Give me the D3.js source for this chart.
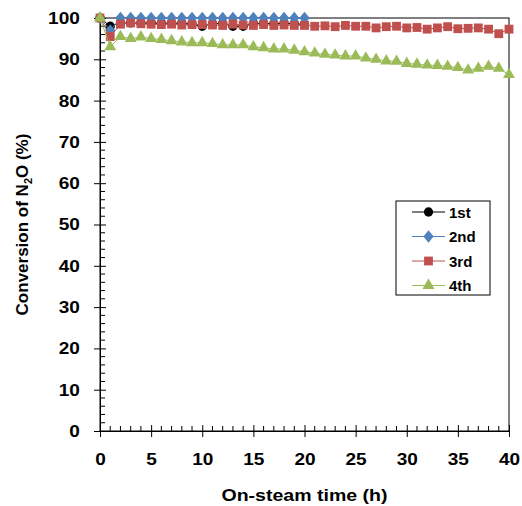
<!DOCTYPE html>
<meta charset="utf-8">
<style>
body { margin: 0; background: #fff; }
svg { font-family: Arial, 'Liberation Sans', sans-serif; }
.tick text, .lbl { font-weight: bold; fill: #000; }
</style>
<body>
<svg width="522" height="506"></svg>
<script src="https://cdn.jsdelivr.net/npm/d3@7"></script>
<script>

// on-steam time (h)
var hours = d3.range(0, 41);

var run1 = [100, 98, 98.8, 98.8, 98.7, 98.8, 98.7, 98.8, 98.7, 98.5, 98,
            98.6, 98.7, 98, 98, 98.7, 98.7, 98.6, 98.7, 98.6, 98.5];
var run2 = [100, 97, 100, 100, 100, 100, 100, 100, 100, 100, 100,
            100, 100, 100, 100, 100, 100, 100, 100, 100, 100];
var run3 = [100, 95.5, 98.5, 98.8, 98.6, 98.5, 98.4, 98.5, 98.3, 98.4, 98.4,
            98.3, 98.2, 98.5, 98.3, 98.2, 98.4, 98.2, 98.3, 98.2, 98.2,
            98, 98.1, 97.9, 98.2, 98, 98, 97.6, 97.9, 98, 97.6,
            97.7, 97.3, 97.6, 97.9, 97.4, 97.5, 97.6, 97.3, 96.2, 97.3];
var run4 = [100, 93, 95.5, 95, 95.4, 95, 94.8, 94.5, 94.2, 94, 94,
            93.8, 93.5, 93.5, 93.5, 93, 92.8, 92.5, 92.5, 92.2, 91.8,
            91.5, 91.2, 91, 90.8, 90.8, 90.3, 90, 89.6, 89.5, 89,
            88.8, 88.6, 88.5, 88.3, 88, 87.4, 87.8, 88.3, 87.8, 86.3];

var seriesNames = ["1st", "2nd", "3rd", "4th"];
var seriesValues = [run1, run2, run3, run4];
var seriesColors = ["#000000", "#4f81bd", "#c0504d", "#9bbb59"];
var seriesSymbols = [d3.symbolCircle, d3.symbolDiamond, d3.symbolSquare, d3.symbolTriangle];
var symbolSizes = [68, 50, 78, 62];
var symbolStretch = ["", " scale(1.35,0.95)", "", ""];

var xTicks = [0, 5, 10, 15, 20, 25, 30, 35, 40];
var yTicks = [0, 10, 20, 30, 40, 50, 60, 70, 80, 90, 100];

var svg = d3.select("svg"),
    margin = {top: 18, right: 13, bottom: 75, left: 100},
    width = 522 - margin.left - margin.right,
    height = 506 - margin.top - margin.bottom;

var g = svg.append("g")
    .attr("transform", "translate(" + margin.left + "," + margin.top + ")");

var x = d3.scaleLinear().domain([0, 40]).range([0, width]);
var y = d3.scaleLinear().domain([0, 100]).range([height, 0]);

// frame
g.append("rect")
    .attr("width", width).attr("height", height)
    .attr("fill", "none").attr("stroke", "#000").attr("stroke-width", 1);

// minor ticks
g.append("g").selectAll("line")
    .data(d3.range(0, 41).filter(function(d) { return d % 5; }))
    .enter().append("line")
    .attr("x1", function(d) { return x(d); }).attr("x2", function(d) { return x(d); })
    .attr("y1", height).attr("y2", height - 5)
    .attr("stroke", "#000");
g.append("g").selectAll("line")
    .data(d3.range(0, 101, 2).filter(function(d) { return d % 10; }))
    .enter().append("line")
    .attr("y1", function(d) { return y(d); }).attr("y2", function(d) { return y(d); })
    .attr("x1", 0).attr("x2", 5)
    .attr("stroke", "#000");

// axes
var xAxis = g.append("g")
    .attr("transform", "translate(0," + height + ")")
    .call(d3.axisBottom(x).tickValues(xTicks).tickSize(6).tickPadding(16).tickSizeOuter(0));
xAxis.selectAll(".tick line").attr("y1", -6);
xAxis.select(".domain").attr("stroke", "#000");
xAxis.selectAll("text").style("font-size", "17px").attr("fill", "#000")
    .attr("transform", "scale(1.12,1)");

var yAxis = g.append("g")
    .call(d3.axisLeft(y).tickValues(yTicks).tickSize(6).tickPadding(12).tickSizeOuter(0));
yAxis.selectAll(".tick line").attr("x1", 6);
yAxis.selectAll("text").style("font-size", "17px").attr("fill", "#000")
    .attr("transform", "scale(1.12,1)");

// series
var line = d3.line()
    .x(function(d, i) { return x(hours[i]); })
    .y(function(d) { return y(d); });

seriesValues.forEach(function(vals, k) {
    var s = g.append("g");
    s.append("path")
        .datum(vals)
        .attr("d", line)
        .attr("fill", "none")
        .attr("stroke", seriesColors[k])
        .attr("stroke-width", 1);
    s.selectAll("path.pt")
        .data(vals)
        .enter().append("path")
        .attr("class", "pt")
        .attr("transform", function(d, i) {
            return "translate(" + x(hours[i]) + "," + y(d) + ")" + symbolStretch[k];
        })
        .attr("d", d3.symbol().type(seriesSymbols[k]).size(symbolSizes[k]))
        .attr("fill", seriesColors[k]);
});

// legend
var legend = svg.append("g").attr("transform", "translate(396,201)");
legend.append("rect")
    .attr("width", 94).attr("height", 94)
    .attr("fill", "#fff").attr("stroke", "#000");
seriesNames.forEach(function(name, k) {
    var row = legend.append("g").attr("transform", "translate(0," + (11 + k * 24.5) + ")");
    row.append("line")
        .attr("x1", 16).attr("x2", 49)
        .attr("stroke", seriesColors[k]);
    row.append("path")
        .attr("transform", "translate(32.5,0)" + symbolStretch[k])
        .attr("d", d3.symbol().type(seriesSymbols[k]).size(symbolSizes[k]))
        .attr("fill", seriesColors[k]);
    row.append("text")
        .attr("class", "lbl")
        .attr("x", 53).attr("y", 5.5)
        .style("font-size", "15px")
        .text(name);
});

// axis titles
svg.append("text")
    .attr("class", "lbl")
    .attr("x", margin.left + width / 2).attr("y", 501)
    .attr("text-anchor", "middle")
    .attr("textLength", 166)
    .attr("lengthAdjust", "spacingAndGlyphs")
    .style("font-size", "17px")
    .text("On-steam time  (h)");

var yt = svg.append("text")
    .attr("class", "lbl")
    .attr("transform", "translate(28," + (margin.top + height / 2) + ") rotate(-90)")
    .attr("text-anchor", "middle")
    .style("font-size", "17px");
yt.append("tspan").text("Conversion of N");
yt.append("tspan").attr("dy", 4).style("font-size", "11px").text("2");
yt.append("tspan").attr("dy", -4).text("O (%)");

</script>
</body>
